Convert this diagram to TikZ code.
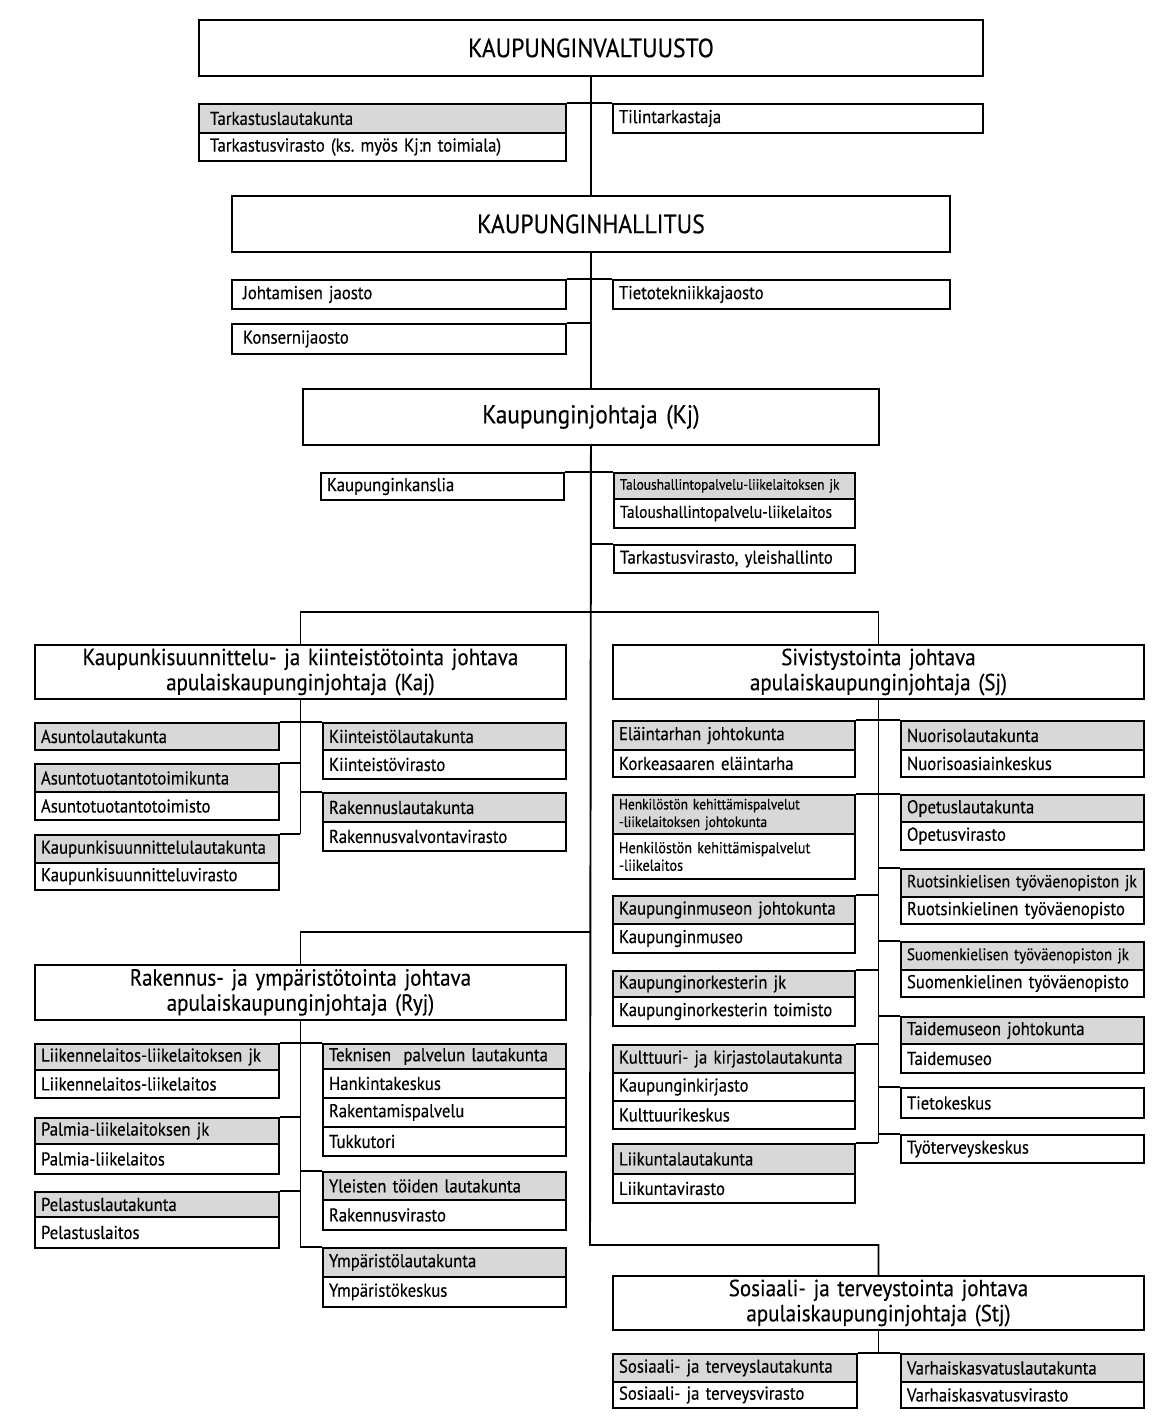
\documentclass[tikz,border=0pt]{standalone}
\usepackage{fontspec}
\setmainfont[FakeStretch=0.9,FakeBold=0.35]{PT Sans}
\usetikzlibrary{positioning}
\definecolor{orggray}{RGB}{216,216,216}
\tikzset{
  cell/.style={draw=black,line width=1.1pt,anchor=north west,
               inner xsep=0.12cm,inner ysep=0pt,align=left,
               font=\fontsize{10.6}{11.5}\selectfont},
  headcell/.style={cell,fill=orggray},
  bodycell/.style={cell,fill=white},
  headsmall/.style={headcell,font=\fontsize{8.5}{10}\selectfont},
  bodysmall/.style={bodycell,font=\fontsize{9}{10}\selectfont},
  bodynarrow/.style={bodycell,font=\fontsize{9.8}{11}\selectfont},
  headmid/.style={headcell,font=\fontsize{10}{11}\selectfont},
  headmids/.style={headcell,font=\fontsize{9.5}{11}\selectfont},
  titlebig/.style={cell,align=center,font=\fontsize{15}{18}\selectfont},
  titlemid/.style={cell,align=center,font=\fontsize{14.7}{17}\selectfont},
  titledep/.style={cell,align=center,font=\fontsize{13.3}{14.3}\selectfont},
  link/.style={line width=1.1pt},
}
\newcommand{\pad}{\hspace{0.1cm}}
\frenchspacing
\begin{document}
\begin{tikzpicture}[x=0.02cm,y=-0.02cm]
  \useasboundingbox (0,0) rectangle (1172,1424);
  % main boxes
  \foreach \nm/\xa/\ya/\xb/\yb/\st/\tx in {
    val/198/19/982/75/titlebig/KAUPUNGINVALTUUSTO,
    hall/231/195/949/251/titlebig/KAUPUNGINHALLITUS,
    kj/302/388/878/444/titlemid/Kaupunginjohtaja (Kj),
    kaj/34/644/565/698/titledep/{Kaupunkisuunnittelu- ja kiinteistötointa johtava\\apulaiskaupunginjohtaja (Kaj)},
    sj/612/644/1143/698/titledep/{Sivistystointa johtava\\apulaiskaupunginjohtaja (Sj)},
    ryj/34/964/565/1019/titledep/{Rakennus- ja ympäristötointa johtava\\apulaiskaupunginjohtaja (Ryj)},
    stj/612/1275/1143/1329/titledep/{Sosiaali- ja terveystointa johtava\\apulaiskaupunginjohtaja (Stj)}}{
    \pgfmathsetmacro\cw{(\xb-\xa)*0.02-0.24}
    \pgfmathsetmacro\ch{(\yb-\ya)*0.02}
    \node[\st,text width=\cw cm,minimum height=\ch cm] (\nm) at (\xa,\ya) {\tx};
  }
  % units
  \foreach \nm/\xa/\ya/\xb/\yb/\st/\tx in {
    tark/198/103/565/132/headcell/\pad Tarkastuslautakunta,
    tarkv/198/132/565/160/bodycell/\pad Tarkastusvirasto (ks. myös Kj:n toimiala),
    tilin/612/103/982/132/bodycell/Tilintarkastaja,
    johj/231/279/565/308/bodycell/\pad Johtamisen jaosto,
    tietoj/612/279/949/308/bodycell/Tietotekniikkajaosto,
    kons/231/323/565/353/bodycell/\pad Konsernijaosto,
    kansl/320/472/563/499/bodycell/Kaupunginkanslia,
    talj/613/472/854/498/headsmall/Taloushallintopalvelu-liikelaitoksen jk,
    tall/613/498/854/527/bodynarrow/Taloushallintopalvelu-liikelaitos,
    tarky/613/544/854/572/bodycell/{Tarkastusvirasto, yleishallinto},
    asl/34/722/278/749/headcell/Asuntolautakunta,
    kil/322/722/565/749/headcell/Kiinteistölautakunta,
    kiv/322/749/565/778/bodycell/Kiinteistövirasto,
    att/34/763/278/791/headcell/Asuntotuotantotoimikunta,
    ato/34/791/278/819/bodycell/Asuntotuotantotoimisto,
    rkl/322/792/565/821/headcell/Rakennuslautakunta,
    rkv/322/821/565/850/bodycell/Rakennusvalvontavirasto,
    ksl/34/834/278/862/headcell/Kaupunkisuunnittelulautakunta,
    ksv/34/862/278/889/bodycell/Kaupunkisuunnitteluvirasto,
    elj/612/720/854/749/headcell/Eläintarhan johtokunta,
    elt/612/749/854/776/bodycell/Korkeasaaren eläintarha,
    nul/900/720/1143/749/headcell/Nuorisolautakunta,
    nuk/900/749/1143/776/bodycell/Nuorisoasiainkeskus,
    hkj/612/794/854/833/headsmall/{Henkilöstön kehittämispalvelut\\-liikelaitoksen johtokunta},
    hkl/612/833/854/878/bodysmall/{Henkilöstön kehittämispalvelut\\-liikelaitos},
    opl/900/794/1143/821/headcell/Opetuslautakunta,
    opv/900/821/1143/849/bodycell/Opetusvirasto,
    rtj/900/868/1143/896/headmid/Ruotsinkielisen työväenopiston jk,
    rto/900/896/1143/923/bodycell/Ruotsinkielinen työväenopisto,
    kmj/612/895/854/923/headcell/Kaupunginmuseon johtokunta,
    kmu/612/923/854/952/bodycell/Kaupunginmuseo,
    sotj/900/941/1143/969/headmids/Suomenkielisen työväenopiston jk,
    sto/900/969/1143/996/bodycell/Suomenkielinen työväenopisto,
    okj/612/970/854/996/headcell/Kaupunginorkesterin jk,
    okt/612/996/854/1025/bodycell/Kaupunginorkesterin toimisto,
    tmj/900/1016/1143/1043/headcell/Taidemuseon johtokunta,
    tmu/900/1043/1143/1072/bodycell/Taidemuseo,
    kkl/612/1044/854/1072/headcell/Kulttuuri- ja kirjastolautakunta,
    kkk/612/1072/854/1100/bodycell/Kaupunginkirjasto,
    kkr/612/1100/854/1128/bodycell/Kulttuurikeskus,
    tik/900/1087/1143/1117/bodycell/Tietokeskus,
    tyk/900/1134/1143/1162/bodycell/Työterveyskeskus,
    lil/612/1143/854/1173/headcell/Liikuntalautakunta,
    liv/612/1173/854/1202/bodycell/Liikuntavirasto,
    llj/34/1043/278/1069/headcell/Liikennelaitos-liikelaitoksen jk,
    lll/34/1069/278/1097/bodycell/Liikennelaitos-liikelaitos,
    tpl/322/1043/565/1068/headcell/Teknisen\ \ palvelun lautakunta,
    hak/322/1068/565/1097/bodycell/Hankintakeskus,
    rkp/322/1097/565/1126/bodycell/Rakentamispalvelu,
    tuk/322/1126/565/1155/bodycell/Tukkutori,
    pmj/34/1117/278/1143/headcell/Palmia-liikelaitoksen jk,
    pml/34/1143/278/1173/bodycell/Palmia-liikelaitos,
    ytl/322/1171/565/1199/headcell/Yleisten töiden lautakunta,
    rav/322/1199/565/1229/bodycell/Rakennusvirasto,
    pel/34/1191/278/1216/headcell/Pelastuslautakunta,
    pla/34/1216/278/1247/bodycell/Pelastuslaitos,
    yml/322/1247/565/1276/headcell/Ympäristölautakunta,
    ymk/322/1276/565/1306/bodycell/Ympäristökeskus,
    sol/612/1353/856/1381/headcell/Sosiaali- ja terveyslautakunta,
    sov/612/1381/856/1407/bodycell/Sosiaali- ja terveysvirasto,
    vkl/900/1353/1143/1381/headcell/Varhaiskasvatuslautakunta,
    vkv/900/1381/1143/1407/bodycell/Varhaiskasvatusvirasto}{
    \pgfmathsetmacro\cw{(\xb-\xa)*0.02-0.24}
    \pgfmathsetmacro\ch{(\yb-\ya)*0.02}
    \node[\st,text width=\cw cm,minimum height=\ch cm] (\nm) at (\xa,\ya) {\tx};
  }
  % trunk
  \coordinate (trunkend) at (590,1245);
  \coordinate (ryjtop) at (590,932);
  \draw[link] (val.south) -- (val.south |- hall.north);
  \draw[link] (tark.north east) -- (tilin.north west);
  \draw[link] (hall.south) -- (hall.south |- kj.north);
  \draw[link] (johj.north east) -- (tietoj.north west);
  \draw[link] (kons.north east) -- (kons.north east -| hall.south);
  \draw[link] (kj.south) -- (trunkend) -| (stj.north);
  \draw[link] (kansl.north east) -- (talj.north west);
  \draw[link] (tarky.north west) -- (tarky.north west -| kj.south);
  \draw[link] (kaj.north) -- ++(0,-32) -| (sj.north);
  \draw[link] (ryj.north) |- (ryjtop);
  % Kaj
  \draw[link] (kaj.south) -- (kaj.south |- ksl.north);
  \draw[link] (asl.north east) -- (kil.north west);
  \foreach \nb in {att,ksl}
    \draw[link] (\nb.north east) -- (\nb.north east -| kaj.south);
  \draw[link] (rkl.north west) -- (rkl.north west -| kaj.south);
  % Sj
  \draw[link] (sj.south) -- (sj.south |- lil.north);
  \draw[link] (elj.north east) -- (nul.north west);
  \draw[link] (hkj.north east) -- (opl.north west);
  \foreach \nb in {kmj,okj,kkl,lil}
    \draw[link] (\nb.north east) -- (\nb.north east -| sj.south);
  \foreach \nb in {rtj,sotj,tmj,tik,tyk}
    \draw[link] (\nb.north west) -- (\nb.north west -| sj.south);
  % Ryj
  \draw[link] (ryj.south) |- (yml.north west);
  \draw[link] (llj.north east) -- (tpl.north west);
  \foreach \nb in {pmj,pel}
    \draw[link] (\nb.north east) -- (\nb.north east -| ryj.south);
  \draw[link] (ytl.north west) -- (ytl.north west -| ryj.south);
  % Stj
  \draw[link] (stj.south) -- (stj.south |- sol.north);
  \draw[link] (sol.north east) -- (vkl.north west);
\end{tikzpicture}
\end{document}
